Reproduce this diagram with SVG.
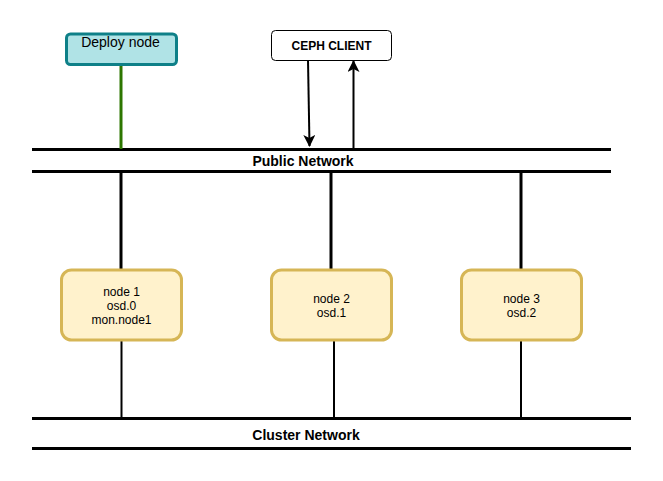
<svg xmlns="http://www.w3.org/2000/svg" width="663" height="481" viewBox="0 0 663 481">
<defs>
<style>
.net{stroke:#000;stroke-width:3;fill:none}
.thick{stroke:#000;stroke-width:3;fill:none}
.thin{stroke:#000;stroke-width:2;fill:none}
.node{fill:#fff2cc;stroke:#d6b656;stroke-width:3}
.t{font-family:"Liberation Sans",Arial,sans-serif;font-size:12px;fill:#000;text-anchor:middle}
.b{font-family:"Liberation Sans",Arial,sans-serif;font-weight:bold;fill:#000;text-anchor:middle}
</style>
<marker id="arr" viewBox="0 0 10 10" refX="9" refY="5" markerWidth="6" markerHeight="6" orient="auto" markerUnits="userSpaceOnUse">
<path d="M0,0 L10,5 L0,10 L3,5 Z" fill="#000"/>
</marker>
<marker id="arr2" viewBox="0 0 12 12" refX="11" refY="6" markerWidth="12" markerHeight="12" orient="auto" markerUnits="userSpaceOnUse">
<path d="M0,0 L12,6 L0,12 L3,6 Z" fill="#000"/>
</marker>
</defs>
<rect width="663" height="481" fill="#fff"/>
<g id="networks">
<line class="net" x1="32" y1="149.5" x2="611" y2="149.5"/>
<line class="net" x1="32" y1="171.5" x2="611" y2="171.5"/>
<text class="b" x="303" y="166" font-size="14">Public Network</text>
<line class="net" x1="32" y1="418.5" x2="631" y2="418.5"/>
<line class="net" x1="32" y1="448.5" x2="631" y2="448.5"/>
<text class="b" x="306" y="440" font-size="14">Cluster Network</text>
</g>
<g id="connectors">
<line x1="121" y1="65" x2="121" y2="149" stroke="#2d7600" stroke-width="3"/>
<path class="thin" d="M308,60 L309.5,146" marker-end="url(#arr2)"/>
<path class="thin" d="M353.5,149 L353.5,61" marker-end="url(#arr2)"/>
<line class="thick" x1="121" y1="171" x2="121" y2="270"/>
<line class="thick" x1="331" y1="171" x2="331" y2="270"/>
<line class="thick" x1="521" y1="171" x2="521" y2="270"/>
<line class="thin" x1="121.5" y1="340" x2="121.5" y2="420"/>
<line class="thin" x1="334" y1="340" x2="334" y2="420"/>
<line class="thin" x1="521" y1="340" x2="521" y2="420"/>
</g>
<g id="deploy">
<rect x="66.5" y="34" width="110" height="30.5" rx="4" fill="#b0e3e6" stroke="#0e8088" stroke-width="3"/>
<text x="120.5" y="47" font-family="Liberation Sans,Arial,sans-serif" font-size="14" text-anchor="middle">Deploy node</text>
</g>
<g id="client">
<rect x="271.5" y="30.5" width="120" height="30" rx="4" fill="#fff" stroke="#000" stroke-width="1"/>
<text class="b" x="331.5" y="50" font-size="12">CEPH CLIENT</text>
</g>
<g id="node1">
<rect class="node" x="61.5" y="270" width="120" height="70" rx="10"/>
<text class="t" x="121.5" y="296">node 1</text>
<text class="t" x="121.5" y="310">osd.0</text>
<text class="t" x="121.5" y="324">mon.node1</text>
</g>
<g id="node2">
<rect class="node" x="271.5" y="270" width="120" height="70" rx="10"/>
<text class="t" x="331.5" y="303">node 2</text>
<text class="t" x="331.5" y="317">osd.1</text>
</g>
<g id="node3">
<rect class="node" x="461.5" y="270" width="120" height="70" rx="10"/>
<text class="t" x="521.5" y="303">node 3</text>
<text class="t" x="521.5" y="317">osd.2</text>
</g>
</svg>
